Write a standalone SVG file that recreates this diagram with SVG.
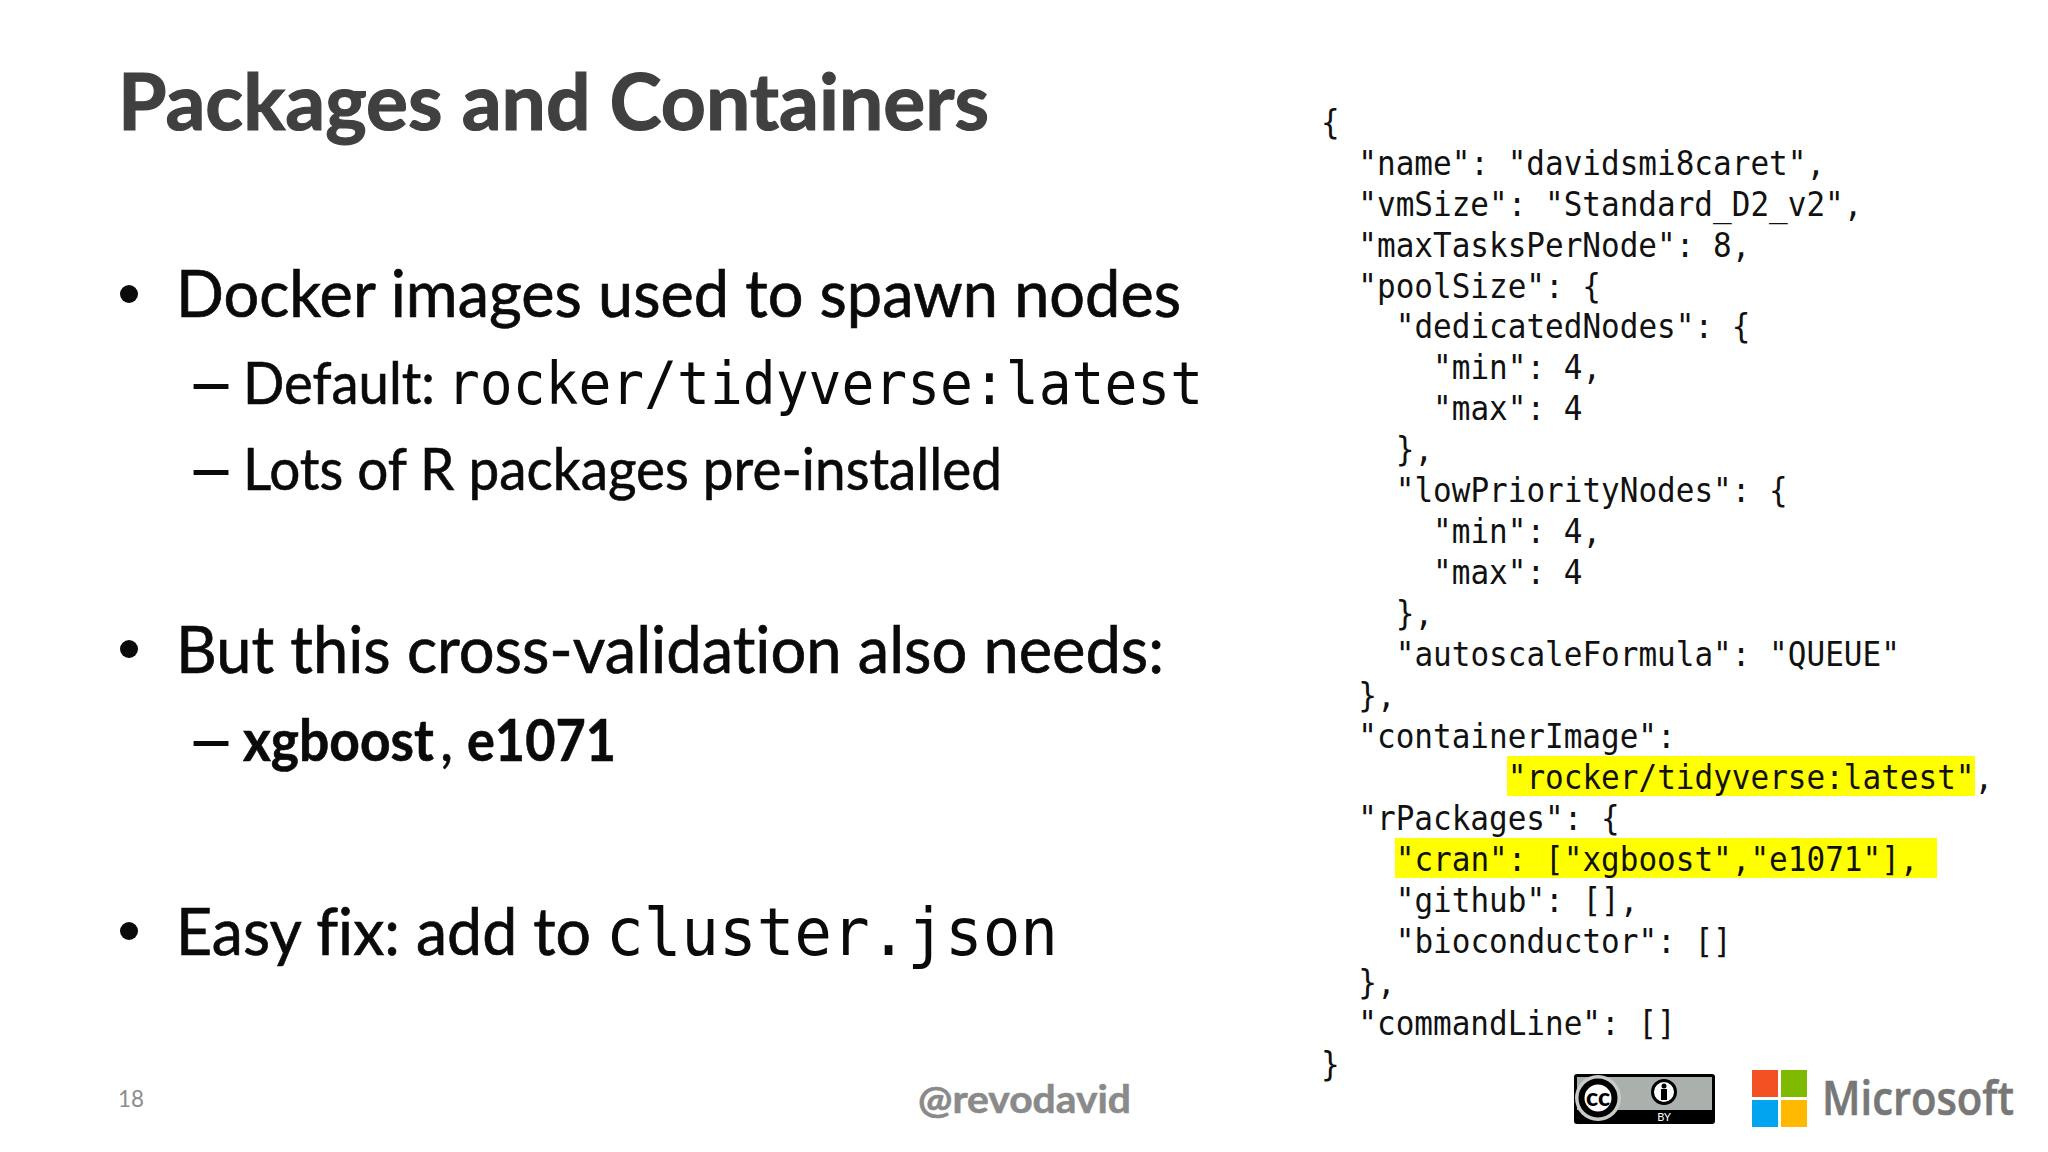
<svg xmlns="http://www.w3.org/2000/svg" width="2048" height="1152" viewBox="0 0 2048 1152">
<style>
text{white-space:pre;font-variant-ligatures:none}
.lato{font-family:"Lato","Open Sans",sans-serif}
.mono{font-family:"DejaVu Sans Mono","Liberation Mono",monospace}
.body{font-size:66px;fill:#0a0a0a;stroke:#0a0a0a;stroke-width:.7px}
.sub{font-size:58px;fill:#0a0a0a;stroke:#0a0a0a;stroke-width:.6px}
.dash{font-size:58px;font-weight:700;fill:#0a0a0a}
.code{font-family:"DejaVu Sans Mono","Liberation Mono",monospace;font-size:33px;fill:#111}
.bul{fill:#0a0a0a}
</style>
<rect width="2048" height="1152" fill="#fff"/>
<g id="title"><text class="lato" x="118" y="130" font-size="79" font-weight="700" fill="#404040" stroke="#404040" stroke-width="1.2" textLength="871" lengthAdjust="spacingAndGlyphs">Packages and Containers</text></g>
<g id="bullets">
<circle class="bul" cx="129" cy="294" r="9"/>
<text class="lato body" x="176" y="317" textLength="1005" lengthAdjust="spacingAndGlyphs">Docker images used to spawn nodes</text>
<text class="lato dash" x="186" y="404" textLength="50" lengthAdjust="spacingAndGlyphs">–</text>
<text class="lato sub" x="243" y="404" textLength="192" lengthAdjust="spacingAndGlyphs">Default:</text>
<text class="mono" x="447" y="404" font-size="58" fill="#0a0a0a" textLength="756" lengthAdjust="spacingAndGlyphs">rocker/tidyverse:latest</text>
<text class="lato dash" x="186" y="490" textLength="50" lengthAdjust="spacingAndGlyphs">–</text>
<text class="lato sub" x="243" y="490" textLength="759" lengthAdjust="spacingAndGlyphs">Lots of R packages pre-installed</text>
<circle class="bul" cx="129" cy="649" r="9"/>
<text class="lato body" x="176" y="673" textLength="988" lengthAdjust="spacingAndGlyphs">But this cross-validation also needs:</text>
<text class="lato dash" x="186" y="761" textLength="50" lengthAdjust="spacingAndGlyphs">–</text>
<text class="lato sub" transform="translate(243 761) scale(.92 1)" font-weight="700">xgboost</text>
<text class="lato sub" x="440" y="761">,</text>
<text class="lato sub" transform="translate(467 761) scale(.9 1)" font-weight="700">e1071</text>
<circle class="bul" cx="129" cy="931" r="9"/>
<text class="lato body" x="176" y="955" textLength="415" lengthAdjust="spacingAndGlyphs">Easy fix: add to</text>
<text class="mono" x="606" y="955" font-size="66" fill="#0a0a0a" textLength="452" lengthAdjust="spacingAndGlyphs">cluster.json</text>
</g>
<g id="code">
<rect x="1507" y="756" width="468" height="40" fill="#ffff00"/>
<rect x="1395" y="838" width="542" height="40" fill="#ffff00"/>
<g transform="translate(1321 1) scale(.94 1)">
<text class="code" x="0" y="133">{</text>
<text class="code" x="39.7" y="174">"name": "davidsmi8caret",</text>
<text class="code" x="39.7" y="215">"vmSize": "Standard_D2_v2",</text>
<text class="code" x="39.7" y="256">"maxTasksPerNode": 8,</text>
<text class="code" x="39.7" y="297">"poolSize": {</text>
<text class="code" x="79.5" y="337">"dedicatedNodes": {</text>
<text class="code" x="119.2" y="378">"min": 4,</text>
<text class="code" x="119.2" y="419">"max": 4</text>
<text class="code" x="79.5" y="460">},</text>
<text class="code" x="79.5" y="501">"lowPriorityNodes": {</text>
<text class="code" x="119.2" y="542">"min": 4,</text>
<text class="code" x="119.2" y="583">"max": 4</text>
<text class="code" x="79.5" y="624">},</text>
<text class="code" x="79.5" y="665">"autoscaleFormula": "QUEUE"</text>
<text class="code" x="39.7" y="706">},</text>
<text class="code" x="39.7" y="747">"containerImage":</text>
<text class="code" x="198.7" y="788">"rocker/tidyverse:latest",</text>
<text class="code" x="39.7" y="829">"rPackages": {</text>
<text class="code" x="79.5" y="870">"cran": ["xgboost","e1071"],</text>
<text class="code" x="79.5" y="911">"github": [],</text>
<text class="code" x="79.5" y="952">"bioconductor": []</text>
<text class="code" x="39.7" y="993">},</text>
<text class="code" x="39.7" y="1034">"commandLine": []</text>
<text class="code" x="0" y="1075">}</text>
</g>
</g>
<g id="footer">
<text class="lato" x="118" y="1107" font-size="23" fill="#8b8b8b" textLength="26" lengthAdjust="spacingAndGlyphs">18</text>
<text class="lato" x="918" y="1113" font-size="39" font-weight="700" fill="#8a8a8a" stroke="#8a8a8a" stroke-width=".6" textLength="213" lengthAdjust="spacingAndGlyphs">@revodavid</text>
</g>
<g id="cc-by">
<rect x="1574" y="1074" width="141" height="50" rx="3" fill="#000"/>
<rect x="1577" y="1077" width="135" height="33" fill="#aab0ab"/>
<circle cx="1598" cy="1098" r="23" fill="#c8ccc8"/>
<circle cx="1598" cy="1098" r="16.5" fill="#fff" stroke="#000" stroke-width="6"/>
<text class="lato" x="1598" y="1106" font-size="25" font-weight="900" text-anchor="middle" fill="#000" textLength="24" lengthAdjust="spacingAndGlyphs">cc</text>
<circle cx="1664" cy="1092" r="11.5" fill="#fff" stroke="#000" stroke-width="3"/>
<circle cx="1664" cy="1086" r="2.5" fill="#000"/>
<rect x="1661" y="1089" width="6" height="11" fill="#000"/>
<text class="lato" x="1664" y="1121" font-size="11" text-anchor="middle" fill="#fff">BY</text>
</g>
<g id="microsoft-logo">
<rect x="1752" y="1070" width="26" height="27" fill="#f25022"/>
<rect x="1781" y="1070" width="26" height="27" fill="#7fba00"/>
<rect x="1752" y="1100" width="26" height="27" fill="#00a4ef"/>
<rect x="1781" y="1100" width="26" height="27" fill="#ffb900"/>
<text x="1822" y="1115" font-family="'Open Sans',sans-serif" font-size="47" font-weight="600" fill="#777" stroke="#777" stroke-width=".6" textLength="192" lengthAdjust="spacingAndGlyphs">Microsoft</text>
</g>
</svg>
